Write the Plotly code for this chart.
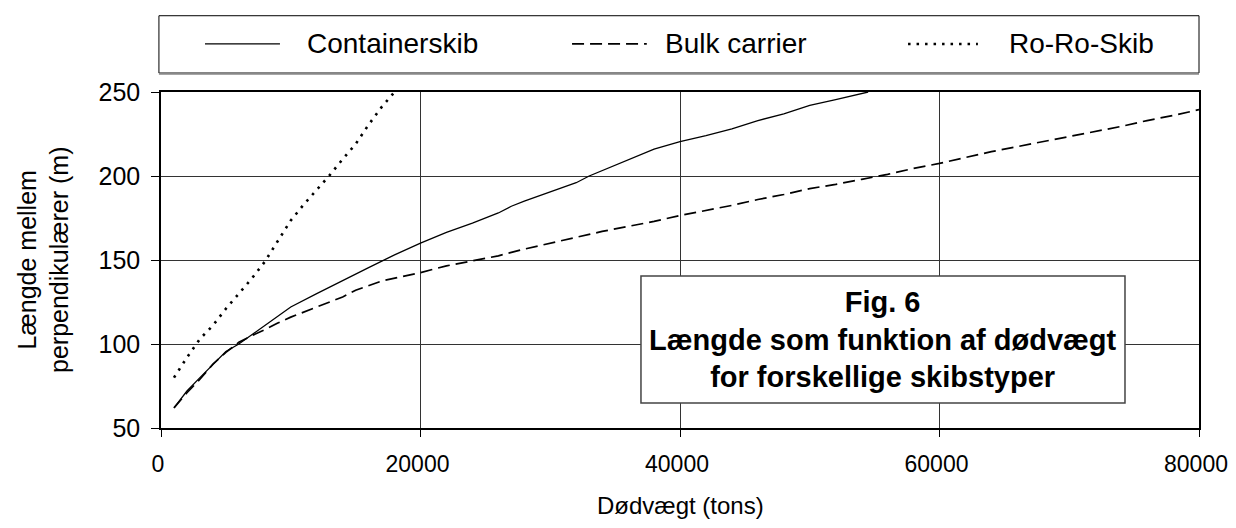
import plotly.graph_objects as go

# Dødvægt (tons) vs. længde mellem perpendikulærer (m)
container_dwt = [1000, 2000, 3000, 4000, 5000, 6000, 7000, 8000, 9000, 10000,
                 12000, 14000, 16000, 18000, 20000, 22000, 24000, 26000, 27000,
                 28000, 30000, 32000, 33000, 35000, 38000, 40000, 42000, 44000,
                 46000, 48000, 50000, 52000, 54500]
container_len = [62, 72, 80, 88, 95.5, 100, 105.5, 111, 117, 122,
                 130, 138, 145.5, 153, 160, 166.5, 172, 178, 182,
                 185, 190.5, 196, 200, 206.5, 216, 220.5, 224, 228,
                 233, 237, 242, 245.5, 250]

bulk_dwt = [1000, 2000, 3000, 4000, 5000, 6000, 7000, 8000, 9000, 10000,
            12000, 14000, 15000, 17000, 20000, 22000, 24000, 26000, 28000,
            30000, 32000, 34000, 36000, 38000, 40000, 42000, 44000, 46000,
            48000, 50000, 52000, 54000, 56000, 58000, 60000, 62000, 64000,
            66000, 68000, 70000, 72000, 74000, 76000, 78000, 80000]
bulk_len = [62, 71, 79, 88, 95, 101, 105, 108.5, 112.5, 116,
            122, 128, 132, 137.5, 142.5, 146.5, 149.5, 152.5, 156.5,
            160, 163.5, 167, 170, 173, 176.5, 179.5, 182.5, 186,
            189, 192.5, 195, 198, 201, 204.5, 207.5, 211, 214.5,
            217.5, 220.5, 223.5, 226.5, 229.5, 233, 236, 239.5]

roro_dwt = [1000, 2000, 3000, 4000, 5000, 6000, 7000, 8000, 9000, 10000,
            11000, 12000, 13000, 14000, 15000, 16000, 17000, 18000]
roro_len = [80, 92, 103, 111, 121, 130, 139, 149, 161, 173.5,
            183, 191.5, 200.5, 210, 219, 230.5, 241, 250]

x_ticks = [0, 20000, 40000, 60000, 80000]
x_tick_text = ["0", "20000", "40000", "60000", "80000"]
y_ticks = [50, 100, 150, 200, 250]

FONT = "Liberation Sans, Arial, sans-serif"
SOLID = dict(color="black", width=1.3)
DASHED = dict(color="black", width=1.7, dash="12px,6px")
DOTTED = dict(color="black", width=2.6, dash="2.5px,6px")

fig = go.Figure()
fig.add_trace(go.Scatter(x=container_dwt, y=container_len, mode="lines",
                         name="Containerskib", line=SOLID))
fig.add_trace(go.Scatter(x=bulk_dwt, y=bulk_len, mode="lines",
                         name="Bulk carrier", line=DASHED))
fig.add_trace(go.Scatter(x=roro_dwt, y=roro_len, mode="lines",
                         name="Ro-Ro-Skib", line=DOTTED))

fig.update_xaxes(range=[0, 80000], tickvals=x_ticks, ticktext=x_tick_text,
                 ticks="outside", ticklen=7,
                 tickcolor="black", showgrid=True, gridcolor="#333",
                 gridwidth=1, showline=True, linecolor="black", linewidth=1.5,
                 mirror=True, zeroline=False, ticklabelstandoff=8,
                 ticklabelshift=-3, ticklabeloverflow="allow", automargin=False,
                 tickfont=dict(size=23, color="black"))
fig.update_yaxes(range=[50, 250], tickvals=y_ticks, ticks="outside", ticklen=8,
                 tickcolor="black", showgrid=True, gridcolor="#333",
                 gridwidth=1, showline=True, linecolor="black", linewidth=1.5,
                 mirror=True, zeroline=False, ticklabelstandoff=6,
                 automargin=False,
                 tickfont=dict(size=25, color="black"))

# legend box drawn by hand
legend_y = 1.143
fig.add_shape(type="rect", xref="paper", yref="paper", x0=-0.002, x1=1.0,
              y0=1.0565, y1=1.227, line=dict(color="black", width=1),
              fillcolor="white")
fig.add_shape(type="line", xref="paper", yref="paper", x0=-0.002, x1=1.0,
              y0=1.0545, y1=1.0545, line=dict(color="#888", width=2))
samples = [
    (0.0424, 0.1146, SOLID, "Containerskib", 0.1387),
    (0.396, 0.468, DASHED, "Bulk carrier", 0.4836),
    (0.7197, 0.787, DOTTED, "Ro-Ro-Skib", 0.815),
]
for x0, x1, ln, label, tx in samples:
    fig.add_shape(type="line", xref="paper", yref="paper", x0=x0, x1=x1,
                  y0=legend_y, y1=legend_y, line=ln)
    fig.add_annotation(xref="paper", yref="paper", x=tx, y=legend_y,
                       xanchor="left", yanchor="middle", showarrow=False,
                       text=label, font=dict(size=28, color="black"))

# figure caption box
fig.add_shape(type="rect", xref="paper", yref="paper", x0=0.4624, x1=0.9287,
              y0=0.0744, y1=0.4524, line=dict(color="#444", width=1.5),
              fillcolor="white", layer="above")
fig.add_annotation(xref="paper", yref="paper", x=0.6956, y=0.262,
                   xanchor="center", yanchor="middle", showarrow=False,
                   text="<b>Fig. 6<br>Længde som funktion af dødvægt<br>"
                        "for forskellige skibstyper</b>",
                   font=dict(size=29, color="black"))

# axis titles
fig.add_annotation(xref="paper", yref="paper", x=0.5, y=-0.232,
                   xanchor="center", yanchor="middle", showarrow=False,
                   text="Dødvægt (tons)", font=dict(size=24, color="black"))
fig.add_annotation(xref="paper", yref="paper", x=-0.1137, y=0.5,
                   xanchor="center", yanchor="middle", showarrow=False,
                   textangle=-90,
                   text="Længde mellem<br>perpendikulærer (m)",
                   font=dict(size=25, color="black"))

# page body adds an 8px offset; keep the figure small enough that no
# scrollbar appears, and shift margins so the plot area lands in place
fig.update_layout(width=1220, height=512, showlegend=False,
                  margin=dict(l=153, r=29, t=84, b=92, autoexpand=False),
                  plot_bgcolor="white", paper_bgcolor="white",
                  font=dict(family=FONT, color="black"))

fig.write_html("out.html")
